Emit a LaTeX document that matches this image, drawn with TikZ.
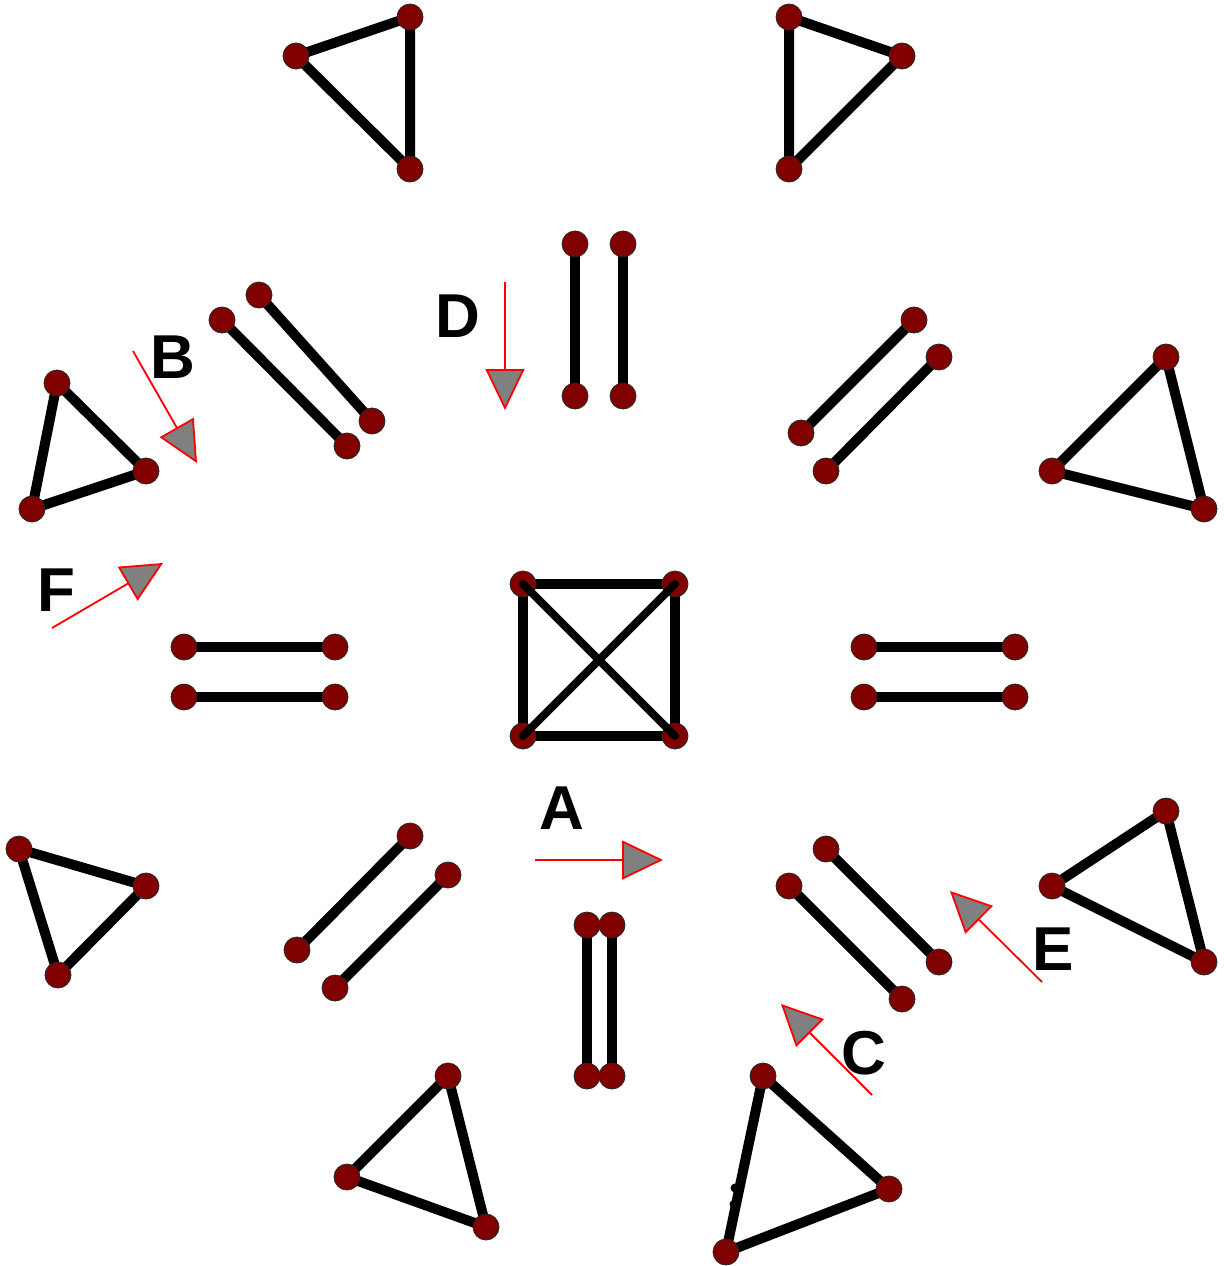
\documentclass[tikz,border=0pt]{standalone}
\usepackage{fontspec}
\setmainfont{Liberation Sans}
\usetikzlibrary{arrows.meta}
\definecolor{dotred}{RGB}{128,0,0}
\begin{document}
\begin{tikzpicture}[x=1pt,y=-1pt,
 edge/.style={line width=10pt},
 cross/.style={line width=8pt,line cap=round},
 dot/.style={circle,fill=dotred,draw=black!85,line width=0.8pt,minimum size=26pt,inner sep=0pt},
 move/.style={draw=red,line width=1.8pt,-{Triangle[length=41pt,width=39pt,fill=gray]}},
 lbl/.style={font=\fontsize{62}{62}\selectfont\bfseries,inner sep=0pt,text depth=0pt,anchor=center}]
\useasboundingbox (0,0) rectangle (1224,1266);
% ---- coordinates of vertices
% top-left triangle
\coordinate (a1) at (296,56); \coordinate (a2) at (410,17); \coordinate (a3) at (410,169);
% top-right triangle
\coordinate (b1) at (789,17); \coordinate (b2) at (902,56); \coordinate (b3) at (789,169);
% top vertical pair
\coordinate (c1) at (575,244); \coordinate (c2) at (575,396);
\coordinate (c3) at (623,244); \coordinate (c4) at (623,396);
% upper-left diagonal pair
\coordinate (d1) at (222,320); \coordinate (d2) at (347,446);
\coordinate (d3) at (259,295); \coordinate (d4) at (372,421);
% upper-right diagonal pair
\coordinate (e1) at (914,320); \coordinate (e2) at (801,433);
\coordinate (e3) at (939,357); \coordinate (e4) at (826,471);
% left triangle
\coordinate (f1) at (57,383); \coordinate (f2) at (146,471); \coordinate (f3) at (32,509);
% right triangle
\coordinate (g1) at (1166,357); \coordinate (g2) at (1052,471); \coordinate (g3) at (1204,509);
% left horizontal pair
\coordinate (h1) at (184,647); \coordinate (h2) at (335,647);
\coordinate (h3) at (184,697); \coordinate (h4) at (335,697);
% right horizontal pair
\coordinate (i1) at (864,647); \coordinate (i2) at (1015,647);
\coordinate (i3) at (864,697); \coordinate (i4) at (1015,697);
% centre square
\coordinate (s1) at (523,584); \coordinate (s2) at (675,584);
\coordinate (s3) at (675,736); \coordinate (s4) at (523,736);
% lower-left diagonal pair
\coordinate (j1) at (410,836); \coordinate (j2) at (297,950);
\coordinate (j3) at (448,875); \coordinate (j4) at (335,988);
% lower-right diagonal pair
\coordinate (k1) at (789,886); \coordinate (k2) at (902,999);
\coordinate (k3) at (826,849); \coordinate (k4) at (939,962);
% bottom vertical pair
\coordinate (l1) at (587,925); \coordinate (l2) at (587,1076);
\coordinate (l3) at (612,925); \coordinate (l4) at (612,1076);
% lower-left triangle
\coordinate (m1) at (19,849); \coordinate (m2) at (146,886); \coordinate (m3) at (58,975);
% lower-right triangle
\coordinate (n1) at (1166,811); \coordinate (n2) at (1052,886); \coordinate (n3) at (1204,962);
% bottom-left triangle
\coordinate (o1) at (448,1076); \coordinate (o2) at (347,1177); \coordinate (o3) at (486,1227);
% bottom-right triangle
\coordinate (p1) at (763,1076); \coordinate (p2) at (889,1189); \coordinate (p3) at (726,1252);

% ---- edges
\foreach \t in {a,b,f,g,m,n,o,p}
  \draw[edge,line join=round] (\t1) -- (\t2) -- (\t3) -- cycle;
\foreach \t in {c,d,e,h,i,j,k,l}{
  \draw[edge] (\t1) -- (\t2);
  \draw[edge] (\t3) -- (\t4);}
\draw[edge] (s1) -- (s2) -- (s3) -- (s4) -- cycle;
% small blobs on the left edge of the bottom-right triangle
\fill (735,1188) circle (4.5pt);
\fill (733,1204) circle (3.5pt);

% ---- vertex dots
\foreach \t in {a,b,f,g,m,n,o,p}
  \foreach \k in {1,2,3}
    \node[dot] (v\t\k) at (\t\k) {};
\foreach \t in {c,d,e,h,i,j,k,l,s}
  \foreach \k in {1,2,3,4}
    \node[dot] (v\t\k) at (\t\k) {};

% ---- square diagonals (on top of the dots)
\draw[cross] (vs1.center) -- (vs3.center);
\draw[cross] (vs2.center) -- (vs4.center);

% ---- motion arrows
\coordinate (Ds) at (505,282); \coordinate (De) at (505,410);
\coordinate (Bs) at (133,351); \coordinate (Be) at (197,463);
\coordinate (Fs) at (52,628);  \coordinate (Fe) at (163,563);
\coordinate (As) at (535,860); \coordinate (Ae) at (663,860);
\coordinate (Es) at (1042,982); \coordinate (Ee) at (950,891);
\coordinate (Cs) at (872,1095); \coordinate (Ce) at (781,1004);
\foreach \m in {D,B,F,A,E,C}
  \draw[move] (\m s) -- (\m e);

% ---- labels
\node[lbl] (LD) at (458,316) {D};
\node[lbl] (LB) at (173,357) {B};
\node[lbl] (LF) at (56,590) {F};
\node[lbl] (LA) at (562,808) {A};
\node[lbl] (LE) at (1053,949) {E};
\node[lbl] (LC) at (864,1053) {C};
\end{tikzpicture}
\end{document}
